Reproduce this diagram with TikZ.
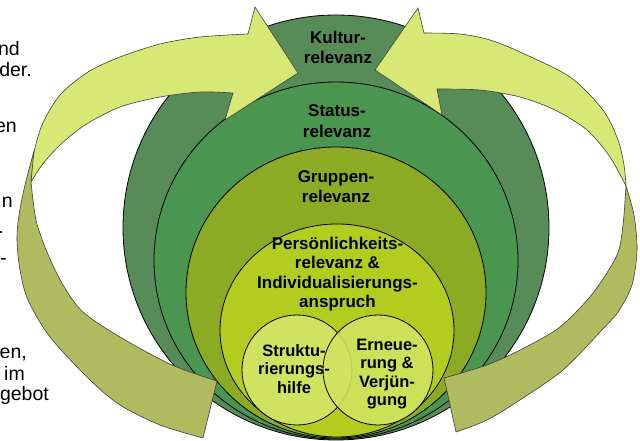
\documentclass[tikz,border=0pt]{standalone}
\usepackage{fontspec}
\setmainfont{Liberation Sans}
\definecolor{kultur}{HTML}{578C58}
\definecolor{status}{HTML}{4A9650}
\definecolor{gruppen}{HTML}{8DAA24}
\definecolor{pers}{HTML}{B2CC20}
\definecolor{circ}{HTML}{D0E360}
\definecolor{arrlight}{HTML}{D8E874}
\definecolor{arrolive}{HTML}{AFBB5E}
\definecolor{arredge}{HTML}{404040}
\begin{document}
\begin{tikzpicture}[x=1pt,y=-1pt,
  ell/.style={draw=black,line width=0.8pt},
  ribbon/.style={draw=arredge,line width=0.6pt,line join=miter},
  lbl/.style={font=\fontsize{17}{20.5}\selectfont\bfseries,align=center,inner sep=0pt},
  clbl/.style={font=\fontsize{16.5}{18.6}\selectfont\bfseries,align=center,inner sep=0pt},
  frag/.style={font=\fontsize{19.5}{22}\selectfont,anchor=base east,inner sep=0pt}]
\useasboundingbox (0,0) rectangle (640,441);
\fill[white] (0,0) rectangle (640,441);

% nested ellipses
\filldraw[ell,fill=kultur] (336,227.5) ellipse [x radius=213,y radius=212.5];
\filldraw[ell,fill=status] (336,260.5) ellipse [x radius=182,y radius=178.5];
\filldraw[ell,fill=gruppen] (336,292.5) ellipse [x radius=150,y radius=145.5];
\filldraw[ell,fill=pers] (337,330.5) ellipse [x radius=117,y radius=106.5];

% two circles
\filldraw[ell,fill=circ] (297,370) circle [radius=55];
\filldraw[ell,fill=circ,fill opacity=0.88] (378,370) circle [radius=55];

% left ribbon arrow
\filldraw[ribbon,fill=arrlight] plot[smooth] coordinates {(31,182) (33,157) (42,125) (60,95) (88,72) (120,57) (160,44) (200,37) (248,34)}
  -- (255,7) -- (298,73) -- (225,120) -- (233,93)
  -- plot[smooth] coordinates {(233,93) (200,92) (160,97) (120,107) (85,125) (60,145) (42,165) (31,182)} -- cycle;
\filldraw[ribbon,fill=arrolive] plot[smooth] coordinates {(34,151) (25,185) (19,215) (17,240) (20,270) (28,300) (50,337) (90,380) (120,405) (160,425) (203,438)}
  -- (217,381)
  -- plot[smooth] coordinates {(217,381) (172,365) (120,337) (83,312) (63,285) (47,252) (36,220) (31,182)} -- cycle;

% right ribbon arrow
\filldraw[ribbon,fill=arrlight] plot[smooth] coordinates {(626,186) (624,165) (618,140) (603,110) (570,77) (520,52) (490,40) (460,34) (424,33)}
  -- (418,8) -- (375,70) -- (442,115) -- (437,89)
  -- plot[smooth] coordinates {(437,89) (480,90) (520,97) (555,110) (587,130) (610,157) (626,186)} -- cycle;
\filldraw[ribbon,fill=arrolive] plot[smooth] coordinates {(626,186) (634,215) (637,250) (632,285) (618,312) (600,332) (563,370) (520,400) (487,420) (456,432)}
  -- (444,378)
  -- plot[smooth] coordinates {(444,378) (487,365) (520,350) (560,327) (593,293) (617,255) (623,225) (626,186)} -- cycle;

% labels
\node[lbl] (kulturtext) at (338,47.5) {Kultur-\\relevanz};
\node[lbl] (statustext) at (337,121) {Status-\\relevanz};
\node[lbl] (gruppentext) at (336,186.5) {Gruppen-\\relevanz};
\node[lbl,font=\fontsize{17}{19.5}\selectfont\bfseries] (perstext) at (337.5,274) {Persönlichkeits-\\relevanz \&\\Individualisierungs-\\anspruch};
\node[clbl] (strukttext) at (294,369) {Struktu-\\rierungs-\\hilfe};
\node[clbl] (erneuetext) at (387,374) {Erneue-\\rung \&\\Verjün-\\gung};

% clipped text fragments at left margin
\node[frag] (f1) at (20,56) {nd};
\node[frag] (f2) at (32,77) {der.};
\node[frag] (f3) at (17,133) {en};
\node[frag] (f4) at (13,207) {n};
\node[frag] (f5) at (4,233) {.};
\node[frag] (f6) at (7,264) {-};
\node[frag] (f7) at (27,358) {en,};
\node[frag] (f8) at (25,380) {im};
\node[frag] (f9) at (49,400) {gebot};
\end{tikzpicture}
\end{document}
